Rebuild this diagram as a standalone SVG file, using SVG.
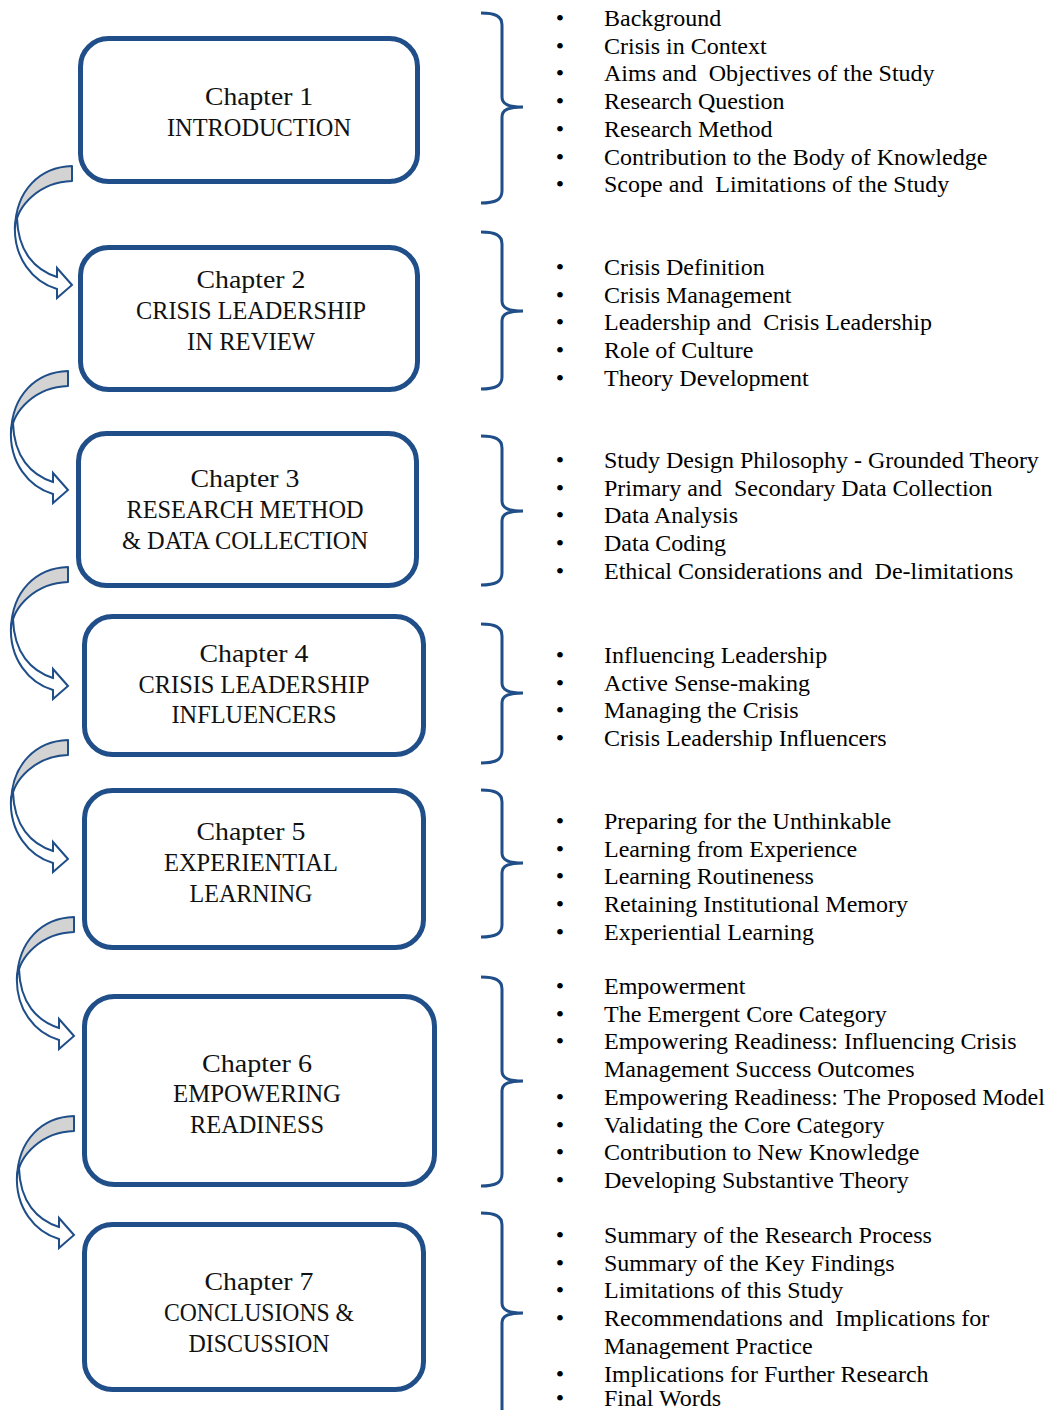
<svg xmlns="http://www.w3.org/2000/svg" width="1049" height="1410" viewBox="0 0 1049 1410">
<style>
.box{fill:#fff;stroke:#1f4e88;stroke-width:5}
.bt{font-family:"Liberation Serif","Times New Roman",serif;font-size:25px;fill:#111;text-anchor:middle}
.br{fill:none;stroke:#1f4e88;stroke-width:3}
.li{font-family:"Liberation Serif","Times New Roman",serif;font-size:24px;fill:#000}
.bu{font-family:"Liberation Serif","Times New Roman",serif;font-size:24px;fill:#000;text-anchor:middle}
.ag{fill:#d3d3d3;stroke:#1f4e88;stroke-width:2;stroke-linejoin:round}
.aw{fill:#fff;stroke:#1f4e88;stroke-width:2;stroke-linejoin:miter}
</style>
<defs>
<g id="carrow">
<path class="aw" d="M-57,58 C-59,92 -39,116 -15,123 L-15,132 L0,119 L-15,102 L-15,111 C-37,104 -54,86 -55,52 Z"/>
<path class="ag" d="M0,0 C-32,1 -56,24 -57,62 C-55,39 -32,16 0,15 Z"/>
</g>
</defs>
<rect width="1049" height="1410" fill="#fff"/>

<g id="connectors">
<use href="#carrow" transform="translate(72,166)"/>
<use href="#carrow" transform="translate(68,371)"/>
<use href="#carrow" transform="translate(68,567)"/>
<use href="#carrow" transform="translate(68,740)"/>
<use href="#carrow" transform="translate(74,917)"/>
<use href="#carrow" transform="translate(74,1116)"/>
</g>

<g id="ch1">
<rect class="box" x="80.5" y="38.5" width="337" height="143" rx="28"/>
<text class="bt" x="259" y="105" textLength="108" lengthAdjust="spacingAndGlyphs">Chapter 1</text>
<text class="bt" x="259" y="136" textLength="184" lengthAdjust="spacingAndGlyphs">INTRODUCTION</text>
</g>
<g id="ch2">
<rect class="box" x="80.5" y="247.5" width="337" height="142" rx="28"/>
<text class="bt" x="251" y="288" textLength="109" lengthAdjust="spacingAndGlyphs">Chapter 2</text>
<text class="bt" x="251" y="319" textLength="230" lengthAdjust="spacingAndGlyphs">CRISIS LEADERSHIP</text>
<text class="bt" x="251" y="350" textLength="128" lengthAdjust="spacingAndGlyphs">IN REVIEW</text>
</g>
<g id="ch3">
<rect class="box" x="78.5" y="433.5" width="338" height="152" rx="28"/>
<text class="bt" x="245" y="487" textLength="109" lengthAdjust="spacingAndGlyphs">Chapter 3</text>
<text class="bt" x="245" y="518" textLength="237" lengthAdjust="spacingAndGlyphs">RESEARCH METHOD</text>
<text class="bt" x="245" y="549" textLength="246" lengthAdjust="spacingAndGlyphs">&amp; DATA COLLECTION</text>
</g>
<g id="ch4">
<rect class="box" x="84.5" y="616.5" width="339" height="138" rx="28"/>
<text class="bt" x="254" y="662" textLength="109" lengthAdjust="spacingAndGlyphs">Chapter 4</text>
<text class="bt" x="254" y="693" textLength="231" lengthAdjust="spacingAndGlyphs">CRISIS LEADERSHIP</text>
<text class="bt" x="254" y="723" textLength="165" lengthAdjust="spacingAndGlyphs">INFLUENCERS</text>
</g>
<g id="ch5">
<rect class="box" x="84.5" y="790.5" width="339" height="157" rx="28"/>
<text class="bt" x="251" y="840" textLength="109" lengthAdjust="spacingAndGlyphs">Chapter 5</text>
<text class="bt" x="251" y="871" textLength="174" lengthAdjust="spacingAndGlyphs">EXPERIENTIAL</text>
<text class="bt" x="251" y="902" textLength="123" lengthAdjust="spacingAndGlyphs">LEARNING</text>
</g>
<g id="ch6">
<rect class="box" x="84.5" y="996.5" width="350" height="188" rx="30"/>
<text class="bt" x="257" y="1072" textLength="110" lengthAdjust="spacingAndGlyphs">Chapter 6</text>
<text class="bt" x="257" y="1102" textLength="168" lengthAdjust="spacingAndGlyphs">EMPOWERING</text>
<text class="bt" x="257" y="1133" textLength="134" lengthAdjust="spacingAndGlyphs">READINESS</text>
</g>
<g id="ch7">
<rect class="box" x="84.5" y="1224.5" width="339" height="165" rx="28"/>
<text class="bt" x="259" y="1290" textLength="109" lengthAdjust="spacingAndGlyphs">Chapter 7</text>
<text class="bt" x="259" y="1321" textLength="190" lengthAdjust="spacingAndGlyphs">CONCLUSIONS &amp;</text>
<text class="bt" x="259" y="1352" textLength="141" lengthAdjust="spacingAndGlyphs">DISCUSSION</text>
</g>

<g id="list1">
<path class="br" d="M481,13 C495,13 502,16 502,25 L502,97 C502,104 508,107 523,107 C508,107 502,110 502,117 L502,191 C502,200 495,203 481,203"/>
<text class="bu" x="560" y="26">•</text><text class="li" x="604" y="26">Background</text>
<text class="bu" x="560" y="53.7">•</text><text class="li" x="604" y="53.7">Crisis in Context</text>
<text class="bu" x="560" y="81.4">•</text><text class="li" x="604" y="81.4" xml:space="preserve">Aims and  Objectives of the Study</text>
<text class="bu" x="560" y="109.1">•</text><text class="li" x="604" y="109.1">Research Question</text>
<text class="bu" x="560" y="136.8">•</text><text class="li" x="604" y="136.8">Research Method</text>
<text class="bu" x="560" y="164.5">•</text><text class="li" x="604" y="164.5">Contribution to the Body of Knowledge</text>
<text class="bu" x="560" y="192.2">•</text><text class="li" x="604" y="192.2" xml:space="preserve">Scope and  Limitations of the Study</text>
</g>
<g id="list2">
<path class="br" d="M481,232 C495,232 502,235 502,244 L502,301 C502,308 508,311 523,311 C508,311 502,314 502,321 L502,377 C502,386 495,389 481,389"/>
<text class="bu" x="560" y="275">•</text><text class="li" x="604" y="275">Crisis Definition</text>
<text class="bu" x="560" y="302.7">•</text><text class="li" x="604" y="302.7">Crisis Management</text>
<text class="bu" x="560" y="330.4">•</text><text class="li" x="604" y="330.4" xml:space="preserve">Leadership and  Crisis Leadership</text>
<text class="bu" x="560" y="358.1">•</text><text class="li" x="604" y="358.1">Role of Culture</text>
<text class="bu" x="560" y="385.8">•</text><text class="li" x="604" y="385.8">Theory Development</text>
</g>
<g id="list3">
<path class="br" d="M481,436 C495,436 502,439 502,448 L502,501 C502,508 508,511 523,511 C508,511 502,514 502,521 L502,573 C502,582 495,585 481,585"/>
<text class="bu" x="560" y="468">•</text><text class="li" x="604" y="468">Study Design Philosophy - Grounded Theory</text>
<text class="bu" x="560" y="495.7">•</text><text class="li" x="604" y="495.7" xml:space="preserve">Primary and  Secondary Data Collection</text>
<text class="bu" x="560" y="523.4">•</text><text class="li" x="604" y="523.4">Data Analysis</text>
<text class="bu" x="560" y="551.1">•</text><text class="li" x="604" y="551.1">Data Coding</text>
<text class="bu" x="560" y="578.8">•</text><text class="li" x="604" y="578.8" xml:space="preserve">Ethical Considerations and  De-limitations</text>
</g>
<g id="list4">
<path class="br" d="M481,624 C495,624 502,627 502,636 L502,683 C502,690 508,693 523,693 C508,693 502,696 502,703 L502,751 C502,760 495,763 481,763"/>
<text class="bu" x="560" y="663">•</text><text class="li" x="604" y="663">Influencing Leadership</text>
<text class="bu" x="560" y="690.7">•</text><text class="li" x="604" y="690.7">Active Sense-making</text>
<text class="bu" x="560" y="718.4">•</text><text class="li" x="604" y="718.4">Managing the Crisis</text>
<text class="bu" x="560" y="746.1">•</text><text class="li" x="604" y="746.1">Crisis Leadership Influencers</text>
</g>
<g id="list5">
<path class="br" d="M481,790 C495,790 502,793 502,802 L502,853 C502,860 508,863 523,863 C508,863 502,866 502,873 L502,925 C502,934 495,937 481,937"/>
<text class="bu" x="560" y="829">•</text><text class="li" x="604" y="829">Preparing for the Unthinkable</text>
<text class="bu" x="560" y="856.7">•</text><text class="li" x="604" y="856.7">Learning from Experience</text>
<text class="bu" x="560" y="884.4">•</text><text class="li" x="604" y="884.4">Learning Routineness</text>
<text class="bu" x="560" y="912.1">•</text><text class="li" x="604" y="912.1">Retaining Institutional Memory</text>
<text class="bu" x="560" y="939.8">•</text><text class="li" x="604" y="939.8">Experiential Learning</text>
</g>
<g id="list6">
<path class="br" d="M481,977 C495,977 502,980 502,989 L502,1071 C502,1078 508,1081 523,1081 C508,1081 502,1084 502,1091 L502,1174 C502,1183 495,1186 481,1186"/>
<text class="bu" x="560" y="994">•</text><text class="li" x="604" y="994">Empowerment</text>
<text class="bu" x="560" y="1021.7">•</text><text class="li" x="604" y="1021.7">The Emergent Core Category</text>
<text class="bu" x="560" y="1049.4">•</text><text class="li" x="604" y="1049.4">Empowering Readiness: Influencing Crisis</text>
<text class="li" x="604" y="1077.1">Management Success Outcomes</text>
<text class="bu" x="560" y="1104.8">•</text><text class="li" x="604" y="1104.8">Empowering Readiness: The Proposed Model</text>
<text class="bu" x="560" y="1132.5">•</text><text class="li" x="604" y="1132.5">Validating the Core Category</text>
<text class="bu" x="560" y="1160.2">•</text><text class="li" x="604" y="1160.2">Contribution to New Knowledge</text>
<text class="bu" x="560" y="1187.9">•</text><text class="li" x="604" y="1187.9">Developing Substantive Theory</text>
</g>
<g id="list7">
<path class="br" d="M481,1213 C495,1213 502,1216 502,1225 L502,1303 C502,1310 508,1313 523,1313 C508,1313 502,1316 502,1323 L502,1420"/>
<text class="bu" x="560" y="1243">•</text><text class="li" x="604" y="1243">Summary of the Research Process</text>
<text class="bu" x="560" y="1270.7">•</text><text class="li" x="604" y="1270.7">Summary of the Key Findings</text>
<text class="bu" x="560" y="1298.4">•</text><text class="li" x="604" y="1298.4">Limitations of this Study</text>
<text class="bu" x="560" y="1326.1">•</text><text class="li" x="604" y="1326.1" xml:space="preserve">Recommendations and  Implications for</text>
<text class="li" x="604" y="1353.8">Management Practice</text>
<text class="bu" x="560" y="1381.5">•</text><text class="li" x="604" y="1381.5">Implications for Further Research</text>
<text class="bu" x="560" y="1406">•</text><text class="li" x="604" y="1406">Final Words</text>
</g>
</svg>
